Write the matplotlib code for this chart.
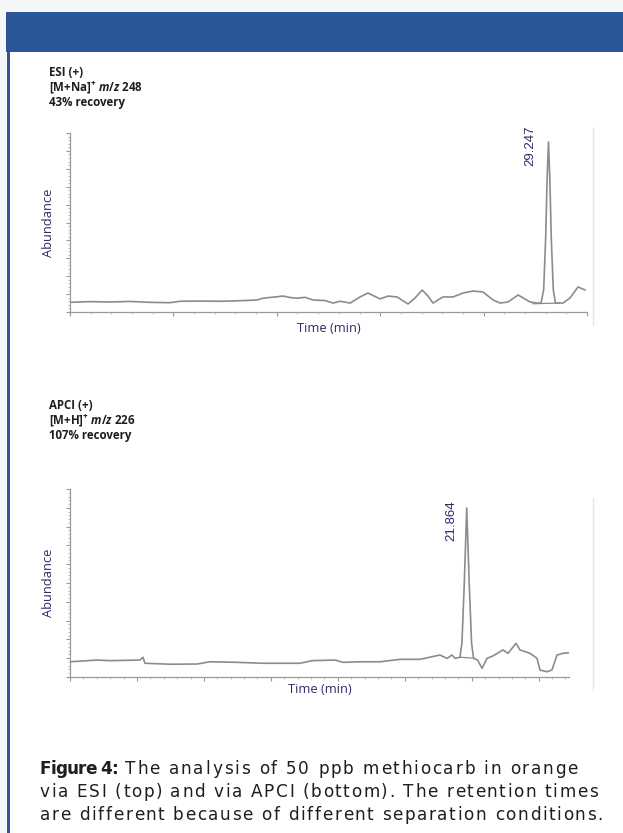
import matplotlib
matplotlib.use("Agg")
import matplotlib.pyplot as plt
from matplotlib.patches import Rectangle
from matplotlib.ticker import MultipleLocator, AutoMinorLocator

plt.rcParams["font.family"] = ["DejaVu Sans"]
plt.rcParams["mathtext.fontset"] = "custom"
plt.rcParams["mathtext.rm"] = "Open Sans:bold"
plt.rcParams["mathtext.it"] = "Open Sans:italic:bold"

# ESI (+) chromatogram, time in min, abundance in % of scale
esi_time = [0.00, 1.22, 2.44, 3.67, 4.89, 6.11, 6.72, 7.95, 9.17, 10.39, 11.43, 11.80,
            12.53, 13.02, 13.45, 13.87, 14.36, 14.85, 15.59, 16.08, 16.50, 17.12, 17.73,
            18.21, 18.95, 19.44, 19.99, 20.66, 21.09, 21.52, 21.88, 22.19, 22.80, 23.41,
            24.02, 24.63, 25.24, 25.86, 26.29, 26.77, 27.39, 28.12, 28.55, 28.79, 28.95,
            29.07, 29.16, 29.247, 29.33, 29.42, 29.54, 29.67, 30.13, 30.56, 31.05, 31.48]
esi_abund = [5.4, 5.8, 5.6, 5.9, 5.4, 5.2, 6.0, 6.1, 6.0, 6.3, 6.7, 7.7,
             8.4, 8.9, 8.1, 7.7, 8.2, 6.7, 6.4, 5.0, 6.0, 5.0, 8.4,
             10.6, 7.3, 8.9, 8.4, 4.5, 7.8, 12.3, 8.9, 5.0, 8.4, 8.4,
             10.6, 11.7, 11.2, 6.7, 5.0, 5.6, 9.5, 5.6, 5.0, 5.0, 12.3,
             40.2, 73.7, 95.0, 73.7, 40.2, 12.3, 5.0, 5.0, 7.8, 14.0, 12.3]
esi_base_t = [28.30, 29.90]
esi_base_a = [4.6, 5.0]
esi_rt = 29.247

# APCI (+) chromatogram
apci_time = [0.00, 1.49, 2.20, 3.86, 4.02, 4.13, 5.51, 7.00, 7.72, 9.20, 10.64, 12.68,
             13.34, 14.60, 15.05, 15.98, 17.08, 18.19, 19.29, 20.39, 20.78, 21.05, 21.22,
             21.49, 21.60, 21.73, 21.864, 22.00, 22.13, 22.24, 22.46, 22.71, 22.98, 23.31,
             23.86, 24.14, 24.58, 24.80, 25.35, 25.74, 25.90, 26.29, 26.56, 26.84, 27.17,
             27.50]
apci_abund = [8.1, 9.0, 8.7, 9.0, 10.5, 7.3, 6.8, 6.9, 8.1, 7.8, 7.3, 7.3,
              8.7, 9.0, 7.8, 8.1, 8.1, 9.4, 9.4, 11.7, 9.9, 11.7, 9.9,
              10.5, 18.1, 50.0, 89.9, 50.0, 18.1, 9.9, 9.0, 4.6, 9.9, 11.2,
              14.4, 12.6, 17.9, 14.4, 12.6, 9.9, 3.7, 2.8, 3.7, 11.7, 12.6,
              12.9]
apci_base_t = [21.49, 22.30]
apci_base_a = [10.5, 10.0]
apci_rt = 21.864

caption = ["The analysis of 50 ppb methiocarb in orange",
           "via ESI (top) and via APCI (bottom). The retention times",
           "are different because of different separation conditions."]

W, H = 623, 833
fig = plt.figure(figsize=(W / 100, H / 100), dpi=100)
fig.patch.set_facecolor("white")
renderer = fig.canvas.get_renderer()

def px(x, y, w, h):
    # pixel box (from top-left) -> figure fraction rect
    return [x / W, 1 - (y + h) / H, w / W, h / H]

def text_w(s, **kw):
    t = fig.text(0, 0, s, **kw)
    w = t.get_window_extent(renderer).width
    t.remove()
    return w

def tracked(s, x0, x1, y, **kw):
    # spread the letters of s evenly between pixel columns x0 and x1
    bar = text_w("|", **kw)
    pos = [text_w(s[:i] + "|", **kw) - bar for i in range(len(s))]
    track = (x1 - x0 - text_w(s, **kw)) / (len(s) - 1)
    for i, ch in enumerate(s):
        if ch != " ":
            fig.text((x0 + pos[i] + i * track) / W, 1 - y / H, ch, va="center", **kw)

blue = "#2a5698"
navy = "#2c2c68"
trace = "#8c8c8c"
ink = "#1e1e1e"

# page frame: grey strip, blue header band, blue left rule
fig.patches.append(Rectangle((0, 0), 1, 1, transform=fig.transFigure,
                             facecolor="#f4f6f8", edgecolor="none", zorder=-3))
fig.patches.append(Rectangle((6 / W, 0), 1, 1 - 52 / H, transform=fig.transFigure,
                             facecolor="white", edgecolor="none", zorder=-2))
fig.patches.append(Rectangle((6 / W, 1 - 52 / H), 1, 40 / H, transform=fig.transFigure,
                             facecolor=blue, edgecolor="none", zorder=-1))
fig.patches.append(Rectangle((7 / W, 0), 3 / W, 1 - 52 / H, transform=fig.transFigure,
                             facecolor=blue, edgecolor="none", zorder=-1))


def chromatogram(rect, t, a, bt, ba, rt, xmax, major, label_y, label_dx, xpad):
    ax = fig.add_axes(rect)
    ax.plot(t, a, color=trace, lw=1.2, solid_joinstyle="round")
    ax.plot(bt, ba, color=trace, lw=0.9)
    ax.set_xlim(0, xmax)
    ax.set_ylim(0, 100)
    for s in ["top", "right"]:
        ax.spines[s].set_visible(False)
    for s in ["left", "bottom"]:
        ax.spines[s].set_color("#9a9a9a")
        ax.spines[s].set_linewidth(0.9)
    ax.xaxis.set_major_locator(MultipleLocator(major))
    ax.xaxis.set_minor_locator(AutoMinorLocator(5))
    ax.yaxis.set_major_locator(MultipleLocator(10))
    ax.yaxis.set_minor_locator(AutoMinorLocator(5))
    ax.tick_params(which="major", length=3, width=0.8, color="#9a9a9a",
                   labelbottom=False, labelleft=False)
    ax.tick_params(which="minor", length=1.6, width=0.6, color="#b0b0b0")
    ax.set_ylabel("Abundance", color=navy, fontsize=9.3, labelpad=6,
                  family="Open Sans")
    ax.set_xlabel("Time (min)", color=navy, fontsize=9.3, labelpad=xpad,
                  family="Open Sans")
    ax.annotate(f"{rt:.3f}", xy=(rt, label_y), xytext=(label_dx, 0),
                textcoords="offset pixels", rotation=90, color=navy,
                fontsize=9.5, family="Liberation Sans", ha="center", va="center")
    ax.patch.set_alpha(0)
    return ax


chromatogram(px(70, 133, 517, 179), esi_time, esi_abund, esi_base_t, esi_base_a,
             esi_rt, 31.6, 6.32, 93, -18, 2)
chromatogram(px(70, 489, 499, 188), apci_time, apci_abund, apci_base_t, apci_base_a,
             apci_rt, 27.5, 3.69, 83, -15, -1)

# faint edges of the original chromatogram panels
for y0, y1 in [(128, 325), (498, 690)]:
    fig.add_artist(plt.Line2D([593 / W, 593 / W], [1 - y1 / H, 1 - y0 / H],
                              color="#e6e6e6", lw=1.0))


def header(y_top, lines):
    # one multi-line block, so the three lines share one text box
    fig.text(49 / W, 1 - y_top / H, "\n".join(lines), fontsize=8.3, weight="bold",
             family="Open Sans", color=ink, va="top", linespacing=1.05)


header(66, ["ESI (+)", r"[M+Na]$^{+}$ $m/z$ 248", "43% recovery"])
header(399, ["APCI (+)", r"[M+H]$^{+}$ $m/z$ 226", "107% recovery"])

# caption
cap = dict(fontsize=12.2, family="DejaVu Sans", color=ink)
tracked("Figure 4:", 40, 118, 769, weight="bold", **cap)
tracked(caption[0], 125, 578, 769, **cap)
tracked(caption[1], 40, 598, 792, **cap)
tracked(caption[2], 40, 603, 815, **cap)

fig.savefig("out.png", dpi=100, facecolor=fig.get_facecolor())
